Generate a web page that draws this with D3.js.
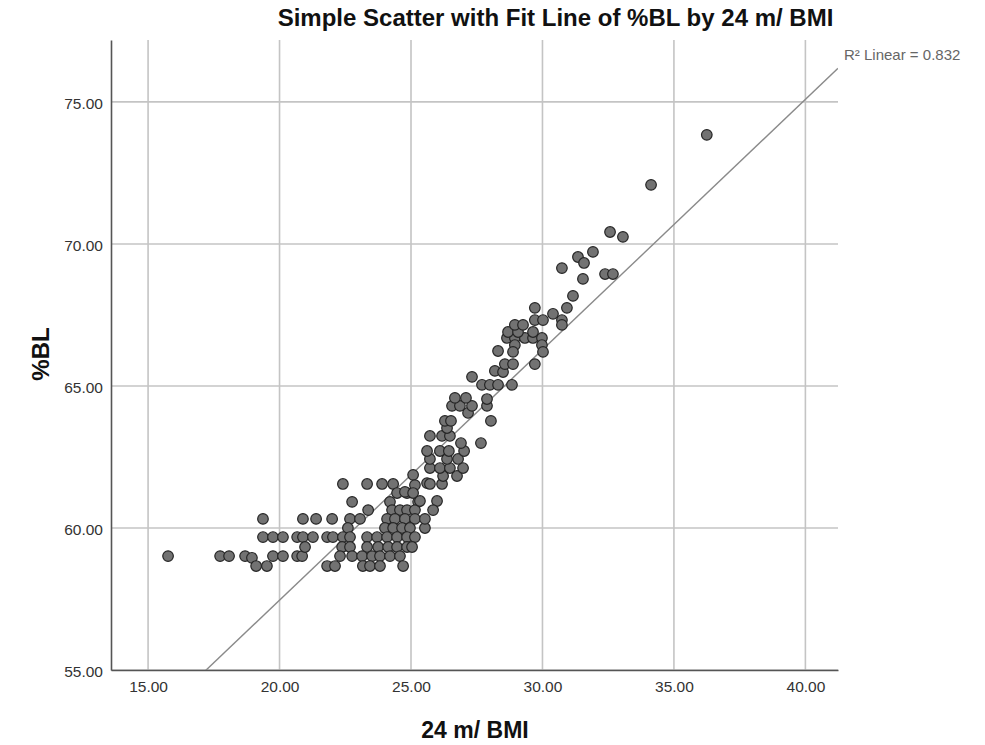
<!DOCTYPE html>
<html>
<head>
<meta charset="utf-8">
<script src="https://cdn.jsdelivr.net/npm/d3@7"></script>
<style>
  body { margin: 0; background: #fff; }
  text { font-family: "Liberation Sans", Arial, sans-serif; }
</style>
</head>
<body>
<div id="chart"></div>
<script>
// values
const bmi = [
  15.76, 17.74, 18.08, 18.69, 18.95, 19.11, 19.52, 19.37, 19.37, 19.75,
  20.13, 19.75, 20.13, 20.67, 20.89, 21.27, 20.67, 20.86, 20.89, 21.39,
  22.00, 20.97, 21.81, 22.03, 21.81, 22.11, 22.41, 23.33, 23.90, 24.32,
  25.08, 25.15, 25.61, 22.76, 24.20, 25.27, 24.47, 24.85, 23.37, 24.28,
  24.58, 24.85, 25.15, 22.68, 23.06, 24.09, 24.39, 24.77, 25.15, 22.60,
  24.01, 24.32, 24.66, 24.96, 25.53, 22.41, 22.68, 23.33, 23.71, 24.09,
  24.47, 24.85, 25.15, 22.38, 22.68, 23.33, 23.75, 24.13, 24.47, 24.85,
  22.30, 22.76, 23.14, 23.52, 23.82, 24.20, 24.58, 23.17, 23.44, 23.82,
  24.70, 24.77, 25.08, 25.34, 25.99, 25.72, 26.18, 26.22, 26.75, 25.72,
  26.10, 26.48, 26.98, 25.72, 26.37, 26.79, 25.61, 26.10, 26.44, 27.02,
  26.90, 27.66, 25.72, 26.18, 26.48, 26.37, 26.29, 26.52, 28.04, 27.17,
  26.56, 26.86, 27.32, 27.89, 26.67, 27.09, 27.89, 25.84, 25.53, 25.04,
  27.32, 27.70, 28.00, 28.31, 28.84, 28.19, 28.50, 28.57, 28.88, 29.71,
  28.31, 28.65, 28.95, 29.33, 29.64, 29.98, 28.95, 29.98, 28.88, 30.02,
  28.69, 29.07, 29.64, 28.95, 29.26, 29.71, 30.02, 30.40, 30.74, 30.74,
  29.71, 30.93, 31.16, 31.54, 30.74, 31.35, 31.58, 31.92, 32.38, 32.68,
  32.57, 33.06, 34.13, 36.25
];
const pctBL = [
  59.01, 59.01, 59.01, 59.01, 58.95, 58.66, 58.66, 60.32, 59.68, 59.68,
  59.68, 59.01, 59.01, 59.68, 59.68, 59.68, 59.01, 59.01, 60.32, 60.32,
  60.32, 59.33, 59.68, 59.68, 58.66, 58.66, 61.55, 61.55, 61.55, 61.55,
  61.87, 61.51, 61.58, 60.92, 60.92, 60.92, 61.23, 61.23, 60.63, 60.63,
  60.63, 60.63, 60.63, 60.32, 60.32, 60.32, 60.32, 60.32, 60.32, 60.00,
  60.00, 60.00, 60.00, 60.00, 60.00, 59.68, 59.68, 59.68, 59.68, 59.68,
  59.68, 59.68, 59.68, 59.33, 59.33, 59.33, 59.33, 59.33, 59.33, 59.33,
  59.01, 59.01, 59.01, 59.01, 59.01, 59.01, 59.01, 58.66, 58.66, 58.66,
  58.66, 61.27, 61.23, 60.95, 60.95, 61.55, 61.55, 61.83, 61.83, 62.11,
  62.11, 62.11, 62.11, 62.43, 62.43, 62.43, 62.71, 62.71, 62.71, 62.71,
  62.99, 62.99, 63.24, 63.24, 63.24, 63.52, 63.77, 63.77, 63.77, 64.05,
  64.30, 64.30, 64.30, 64.30, 64.58, 64.58, 64.54, 60.63, 60.32, 59.33,
  65.32, 65.04, 65.04, 65.04, 65.04, 65.53, 65.49, 65.77, 65.77, 65.77,
  66.23, 66.69, 66.69, 66.69, 66.69, 66.69, 66.44, 66.44, 66.20, 66.20,
  66.90, 66.90, 66.90, 67.15, 67.15, 67.32, 67.32, 67.54, 67.32, 67.15,
  67.75, 67.75, 68.17, 68.77, 69.15, 69.54, 69.33, 69.72, 68.94, 68.94,
  70.42, 70.25, 72.08, 73.84
];
const xTicks = [15, 20, 25, 30, 35, 40];
const yTicks = [55, 60, 65, 70, 75];
// fit line as printed: R2 linear = 0.832
const fitIntercept = 39.83;
const fitSlope = 0.8815;
const r2 = 0.832;

const data = bmi.map((v, i) => ({ bmi: v, bl: pctBL[i] }));

// ----------------------------------------------------------

var margin = { top: 40, right: 147, bottom: 75, left: 111 },
    width = 985 - margin.left - margin.right,
    height = 745 - margin.top - margin.bottom;

var svg = d3.select("#chart")
    .append("svg")
    .attr("width", width + margin.left + margin.right)
    .attr("height", height + margin.top + margin.bottom)
    .append("g")
    .attr("transform", "translate(" + margin.left + "," + margin.top + ")");

var x = d3.scaleLinear().domain([13.59, 41.24]).range([0, width]);
var y = d3.scaleLinear().domain([55, 77.18]).range([height, 0]);

// grid
const gridGroup = svg.append("g").attr("id", "grid")
gridGroup.selectAll(".vgrid").data(xTicks).enter().append("line")
    .attr("x1", d => x(d)).attr("x2", d => x(d))
    .attr("y1", 0).attr("y2", height)
    .attr("stroke", "#c4c4c4").attr("stroke-width", 1.6)
gridGroup.selectAll(".hgrid").data(yTicks).enter().append("line")
    .attr("x1", 0).attr("x2", width)
    .attr("y1", d => y(d)).attr("y2", d => y(d))
    .attr("stroke", "#c4c4c4").attr("stroke-width", 1.6)

// axes
let xAxis = d3.axisBottom(x).tickValues(xTicks).tickFormat(d3.format(".2f")).tickSize(0).tickPadding(11)
let yAxis = d3.axisLeft(y).tickValues(yTicks).tickFormat(d3.format(".2f")).tickSize(0).tickPadding(8)

const xAxisGroup = svg.append("g").attr("transform", "translate(0," + height + ")").call(xAxis)
const yAxisGroup = svg.append("g").call(yAxis)
xAxisGroup.select(".domain").attr("stroke", "#555").attr("stroke-width", 1.6)
yAxisGroup.select(".domain").attr("stroke", "#555").attr("stroke-width", 1.6)
svg.selectAll(".tick text")
    .style("font-family", "'Liberation Sans', Arial, sans-serif")
    .style("font-size", "15.5px")
    .attr("fill", "#333")
yAxisGroup.selectAll(".tick text").attr("dy", "0.4em")

// fit line, clipped to plot
svg.append("clipPath").attr("id", "clip")
    .append("rect").attr("width", width).attr("height", height)

const xs = x.domain()
svg.append("path")
    .datum(xs.map(v => ({ bmi: v, bl: fitIntercept + fitSlope * v })))
    .attr("clip-path", "url(#clip)")
    .attr("fill", "none")
    .attr("stroke", "#8a8a8a")
    .attr("stroke-width", 1.4)
    .attr("d", d3.line().x(d => x(d.bmi)).y(d => y(d.bl)))

// points
svg.append("g").selectAll("circle").data(data).enter().append("circle")
    .attr("cx", d => x(d.bmi))
    .attr("cy", d => y(d.bl))
    .attr("r", 5.3)
    .attr("fill", "#727272")
    .attr("stroke", "#262626")
    .attr("stroke-width", 1.2)

// R2 label
svg.append("text")
    .attr("x", width + 6)
    .attr("y", 20)
    .attr("fill", "#666")
    .style("font-size", "15px")
    .text("R\u00B2 Linear = " + r2.toFixed(3))

// title
svg.append("text")
    .attr("x", (273 + 838) / 2 - margin.left)
    .attr("y", -14)
    .attr("text-anchor", "middle")
    .style("font-weight", "bold")
    .style("font-size", "24px")
    .attr("fill", "#111")
    .text("Simple Scatter with Fit Line of %BL by 24 m/ BMI")

// axis labels
svg.append("text")
    .attr("x", 475 - margin.left)
    .attr("y", height + 68)
    .attr("text-anchor", "middle")
    .style("font-weight", "bold")
    .style("font-size", "23px")
    .attr("fill", "#111")
    .text("24 m/ BMI")

svg.append("text")
    .attr("transform", "rotate(-90)")
    .attr("x", -(354 - margin.top))
    .attr("y", 49 - margin.left)
    .attr("text-anchor", "middle")
    .style("font-weight", "bold")
    .style("font-size", "24px")
    .attr("fill", "#111")
    .text("%BL")
</script>
</body>
</html>
